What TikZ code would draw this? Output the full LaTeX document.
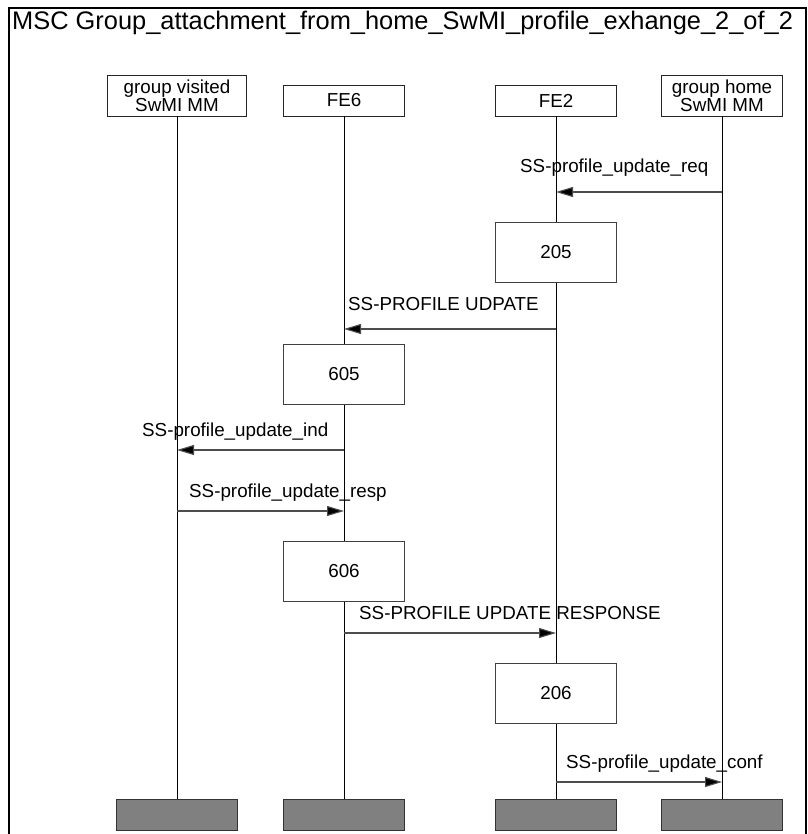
\documentclass[tikz,border=0pt]{standalone}
\usepackage{fontspec}
\setmainfont{Liberation Sans}
\usetikzlibrary{positioning,arrows.meta,backgrounds}

\begin{document}
\begin{tikzpicture}[x=1pt, y=-1pt,
  every node/.style={font=\fontsize{18.8}{17}\selectfont, inner sep=0pt},
  entity/.style={draw=black!85, fill=white, minimum width=121pt, minimum height=31pt, align=center},
  action/.style={draw=black!75, fill=white, minimum width=121pt, minimum height=60pt},
  foot/.style={draw=black!80, fill=black!50, minimum width=121pt, minimum height=31pt},
  msg/.style={draw=black!70, line width=1.1pt, -{Triangle[length=17pt,width=10pt,fill=black]}},
  lbl/.style={anchor=base west}]
  \fill[white] (0,0) rectangle (807,834);
  \useasboundingbox (0,0) rectangle (807,834);
  \draw[line width=2pt] (8.5,834) -- (8.5,8.5) -- (806,8.5) -- (806,834);
  \node[anchor=base west, font=\fontsize{25.4}{28}\selectfont] (title) at (12,30) {MSC Group\_attachment\_from\_home\_SwMI\_profile\_exhange\_2\_of\_2};

  \node[entity, minimum width=139pt, minimum height=41pt] (gv) at (177,95.5) {group visited\\SwMI MM};
  \node[entity] (fe6) at (344,100.5) {FE6};
  \node[entity] (fe2) at (556,100.5) {FE2};
  \node[entity, minimum height=41pt] (gh) at (722,95.5) {group home\\SwMI MM};

  \node[foot] (gvend) at (177,814.5) {};
  \node[foot] (fe6end) at (344,814.5) {};
  \node[foot] (fe2end) at (556,814.5) {};
  \node[foot] (ghend) at (722,814.5) {};

  \draw (gv.south) -- (gvend.north);
  \draw (fe6.south) -- (fe6end.north);
  \draw (fe2.south) -- (fe2end.north);
  \draw (gh.south) -- (ghend.north);

  \node[action] (a205) at (556,252) {205};
  \node[action] (a605) at (344,374) {605};
  \node[action] (a606) at (344,571.5) {606};
  \node[action] (a206) at (556,693) {206};

  \coordinate (m1) at (0,192);
  \coordinate (m2) at (0,329);
  \coordinate (m3) at (0,450);
  \coordinate (m4) at (0,511);
  \coordinate (m5) at (0,633);
  \coordinate (m6) at (0,782);

  \draw[msg] (gh |- m1) -- (fe2 |- m1);
  \draw[msg] (fe2 |- m2) -- (fe6 |- m2);
  \draw[msg] (fe6 |- m3) -- (gv |- m3);
  \draw[msg] (gv |- m4) -- (fe6 |- m4);
  \draw[msg] (fe6 |- m5) -- (fe2 |- m5);
  \draw[msg] (fe2 |- m6) -- (gh |- m6);

  \node[lbl] (l1) at (520,173) {SS-profile\_update\_req};
  \node[lbl] (l2) at (348,310) {SS-PROFILE UDPATE};
  \node[lbl] (l3) at (142,436) {SS-profile\_update\_ind};
  \node[lbl] (l4) at (189,497) {SS-profile\_update\_resp};
  \node[lbl] (l5) at (359,619) {SS-PROFILE UPDATE RESPONSE};
  \node[lbl] (l6) at (566,768) {SS-profile\_update\_conf};
\end{tikzpicture}
\end{document}
